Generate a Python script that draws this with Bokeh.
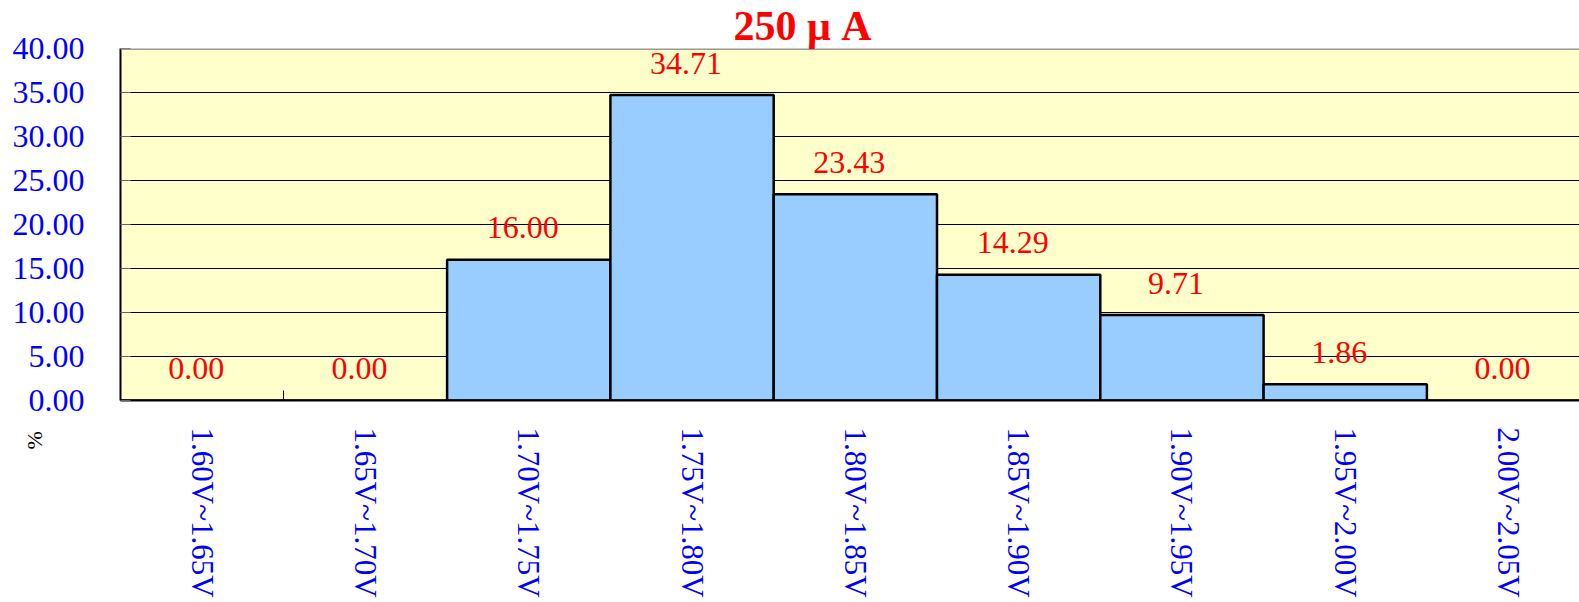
import math
from bokeh.plotting import figure
from bokeh.models import (Range1d, FixedTicker, NumeralTickFormatter, Span,
                          ColumnDataSource, Title)
from bokeh.core.properties import value
from bokeh.embed import file_html
from bokeh.resources import INLINE

categories = ["1.60V~1.65V", "1.65V~1.70V", "1.70V~1.75V", "1.75V~1.80V",
              "1.80V~1.85V", "1.85V~1.90V", "1.90V~1.95V", "1.95V~2.00V",
              "2.00V~2.05V"]
values = [0.00, 0.00, 16.00, 34.71, 23.43, 14.29, 9.71, 1.86, 0.00]
y_ticks = [0, 5, 10, 15, 20, 25, 30, 35, 40]
title_text = "250 μ A"
unit_text = "%"

SERIF = "Liberation Serif"

centers = [i + 0.5 for i in range(len(categories))]
bounds = [float(i) for i in range(len(categories) + 1)]

src = ColumnDataSource(dict(
    x=centers,
    top=values,
    label=["%.2f" % v for v in values],
))

p = figure(width=1579, height=600, output_backend="svg", toolbar_location=None,
           x_range=Range1d(0, 1459 / 163.3), y_range=Range1d(0, 40),
           min_border_left=120, min_border_right=0, min_border_top=47,
           min_border_bottom=200)
p.background_fill_color = "#FFFFCC"
p.border_fill_color = "white"
p.outline_line_color = None

p.title.text = title_text
p.title.text_font = SERIF
p.title.text_font_size = "42px"
p.title.text_font_style = "bold"
p.title.text_color = "#FF0000"
p.title.align = "left"
p.title.offset = 613
p.title.standoff = 0

p.vbar(x="x", top="top", bottom=0, width=1.0, source=src,
       fill_color="#99CCFF", line_color="black", line_width=2.5)

p.text(x="x", y="top", text="label", source=src, text_color="#FF0000",
       text_font=value(SERIF), text_font_size="32px", text_align="center",
       text_baseline="alphabetic", y_offset=-32, x_offset=-6)

# axes
p.xaxis.ticker = FixedTicker(ticks=centers, minor_ticks=bounds)
p.xaxis.major_label_overrides = {c: lab for c, lab in zip(centers, categories)}
p.xaxis.major_label_orientation = -math.pi / 2
p.xaxis.major_label_text_font = SERIF
p.xaxis.major_label_text_font_size = "31px"
p.xaxis.major_label_text_color = "#0000FF"
p.xaxis.major_label_standoff = 21
p.xaxis.major_tick_line_color = None
p.xaxis.minor_tick_in = 10
p.xaxis.minor_tick_out = 0
p.xaxis.minor_tick_line_color = "black"
p.xaxis.axis_line_color = "black"
p.xaxis.axis_line_width = 2

p.yaxis.ticker = FixedTicker(ticks=y_ticks)
p.yaxis.formatter = NumeralTickFormatter(format="0.00")
p.yaxis.major_label_text_font = SERIF
p.yaxis.major_label_text_font_size = "32px"
p.yaxis.major_label_text_color = "#0000FF"
p.yaxis.major_label_standoff = 36
p.yaxis.major_tick_in = 10
p.yaxis.major_tick_out = 0
p.yaxis.major_tick_line_color = "#666666"
p.yaxis.minor_tick_line_color = None
p.yaxis.axis_line_color = "black"
p.yaxis.axis_line_width = 2

# unit "%" under the value axis, as a side title
unit_title = Title(text=unit_text, text_font=SERIF, text_font_size="22px",
                   text_font_style="normal", text_color="black",
                   align="left", offset=-49, standoff=-75)
p.add_layout(unit_title, "left")

p.xgrid.grid_line_color = None
p.ygrid.ticker = FixedTicker(ticks=y_ticks[1:-1])
p.ygrid.grid_line_color = "black"
p.ygrid.grid_line_width = 1

p.add_layout(Span(location=40, dimension="width", line_color="#999999", line_width=3))

open("out.html", "w").write(file_html(p, INLINE))
